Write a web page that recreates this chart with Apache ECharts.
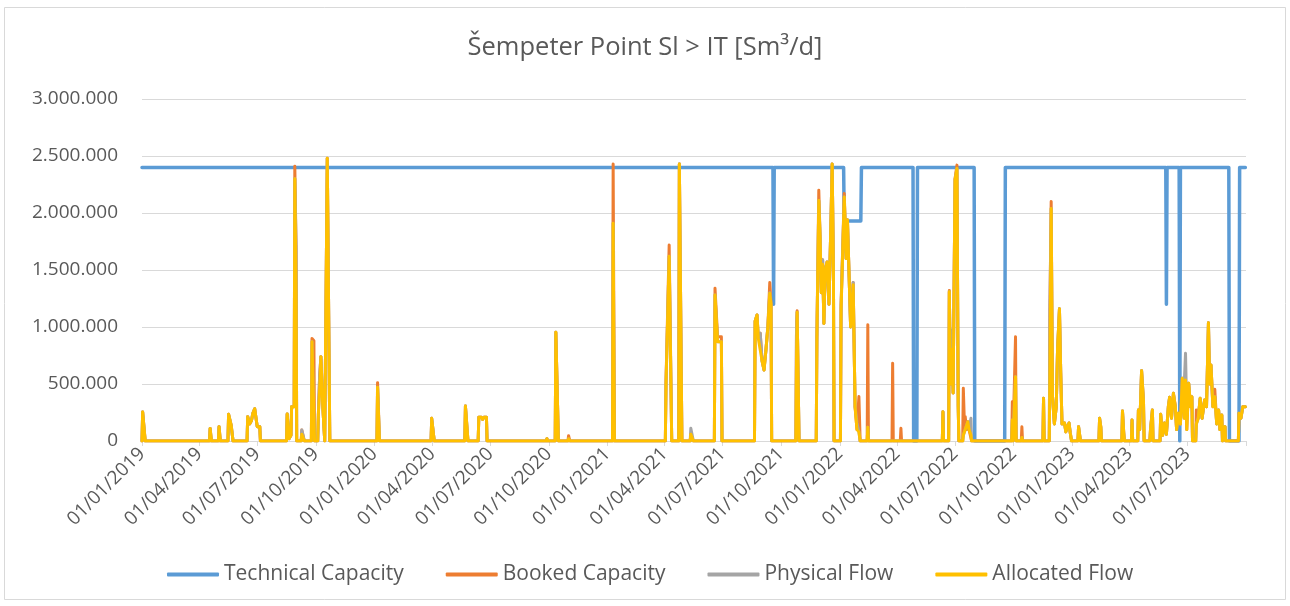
<!DOCTYPE html>
<html>
<head>
<meta charset="utf-8">
<script src="https://cdn.jsdelivr.net/npm/echarts@6/dist/echarts.min.js"></script>
<style>
html,body{margin:0;padding:0;background:#ffffff;}
#chart{width:1290px;height:606px;}
</style>
</head>
<body>
<div id="chart"></div>
<script>
// ---------- DATA ----------
const chartTitle = 'Šempeter Point Sl > IT [Sm³/d]';
const seriesNames = ['Technical Capacity', 'Booked Capacity', 'Physical Flow', 'Allocated Flow'];

// x-axis tick labels (quarter starts) and axis end
const quarterLabels = ['01/01/2019','01/04/2019','01/07/2019','01/10/2019','01/01/2020','01/04/2020','01/07/2020','01/10/2020',
  '01/01/2021','01/04/2021','01/07/2021','01/10/2021','01/01/2022','01/04/2022','01/07/2022','01/10/2022',
  '01/01/2023','01/04/2023','01/07/2023'];
const axisEndLabel = '01/10/2023';

// y-axis
const yTicks = [0, 500000, 1000000, 1500000, 2000000, 2500000, 3000000];

// Technical capacity (change points)
const capDates = ['2019-01-01','2021-09-18','2021-09-19','2021-09-20','2022-01-07','2022-01-08','2022-02-03','2022-02-04',
  '2022-04-26','2022-04-27','2022-05-02','2022-05-03','2022-07-31','2022-08-01','2022-09-17','2022-09-18',
  '2023-05-28','2023-05-29','2023-05-30','2023-06-18','2023-06-19','2023-06-20','2023-09-04','2023-09-05',
  '2023-09-20','2023-09-21','2023-09-30'];
const technicalCapacity = [2400000,2400000,1200000,2400000,2400000,1930000,1930000,2400000,
  2400000,0,0,2400000,2400000,0,0,2400000,
  2400000,1200000,2400000,2400000,0,2400000,2400000,0,
  0,2400000,2400000];

// Flows (dates shared by booked / physical / allocated)
const flowDates = [
  '2019-01-01','2019-01-02','2019-01-05','2019-01-06',
  '2019-04-17','2019-04-18','2019-04-19','2019-04-20','2019-05-01','2019-05-02','2019-05-03','2019-05-04',
  '2019-05-16','2019-05-17','2019-05-18','2019-05-21','2019-05-23','2019-05-24','2019-06-15','2019-06-16','2019-06-18','2019-06-19','2019-06-22','2019-06-24','2019-06-26','2019-06-27','2019-06-30','2019-07-01','2019-07-05','2019-07-06',
  '2019-08-16','2019-08-17','2019-08-19','2019-08-20','2019-08-23','2019-08-24','2019-08-28','2019-08-29','2019-08-30','2019-08-31','2019-09-01','2019-09-08','2019-09-09','2019-09-12','2019-09-13',
  '2019-09-24','2019-09-25','2019-09-28','2019-09-29','2019-10-04','2019-10-05','2019-10-07','2019-10-09','2019-10-10','2019-10-12','2019-10-14','2019-10-15','2019-10-18','2019-10-19','2019-10-22','2019-10-23',
  '2020-01-05','2020-01-06','2020-01-08','2020-01-09','2020-03-30','2020-03-31','2020-04-03','2020-04-04','2020-05-22','2020-05-23','2020-05-26','2020-05-27',
  '2020-06-12','2020-06-13','2020-06-17','2020-06-19','2020-06-21','2020-06-25','2020-06-26','2020-09-27','2020-09-28','2020-09-29','2020-10-11','2020-10-12','2020-10-15','2020-10-16','2020-10-31','2020-11-01','2020-11-02','2020-11-03',
  '2021-01-09','2021-01-10','2021-01-11','2021-01-12','2021-04-02','2021-04-03','2021-04-06','2021-04-08','2021-04-11','2021-04-12','2021-04-23','2021-04-24','2021-04-27','2021-04-28','2021-05-11','2021-05-12','2021-05-15','2021-05-16',
  '2021-06-18','2021-06-19','2021-06-22','2021-06-23','2021-06-29','2021-06-30','2021-08-20','2021-08-21','2021-08-24','2021-08-26','2021-08-29','2021-09-01','2021-09-04','2021-09-07','2021-09-10','2021-09-13','2021-09-15','2021-09-16','2021-10-24','2021-10-25','2021-10-26','2021-10-28','2021-10-29',
  '2021-11-25','2021-11-26','2021-11-29','2021-12-01','2021-12-03','2021-12-05','2021-12-07','2021-12-09','2021-12-12','2021-12-15','2021-12-18','2021-12-20','2021-12-22','2021-12-23','2021-12-28',
  '2022-01-02','2022-01-03','2022-01-08','2022-01-11','2022-01-13','2022-01-15','2022-01-18','2022-01-22','2022-01-25','2022-01-28','2022-01-31','2022-02-02','2022-02-13','2022-02-14','2022-02-15','2022-03-24','2022-03-25','2022-03-26','2022-04-06','2022-04-07','2022-04-08',
  '2022-06-11','2022-06-12','2022-06-13','2022-06-21','2022-06-22','2022-06-24','2022-06-26','2022-06-28','2022-07-01','2022-07-04','2022-07-06','2022-07-07','2022-07-13','2022-07-14','2022-07-16','2022-07-17','2022-07-19','2022-07-21','2022-07-23','2022-07-26','2022-07-27',
  '2022-09-28','2022-09-29','2022-09-30','2022-10-03','2022-10-04','2022-10-05','2022-10-13','2022-10-14','2022-10-15',
  '2022-11-16','2022-11-17','2022-11-18','2022-11-26','2022-11-27','2022-11-29','2022-12-01','2022-12-04','2022-12-07','2022-12-09','2022-12-12','2022-12-14','2022-12-16','2022-12-20','2022-12-22','2022-12-24','2022-12-27','2022-12-29','2022-12-31',
  '2023-01-10','2023-01-11','2023-01-13','2023-01-14','2023-02-12','2023-02-13','2023-02-15','2023-02-16','2023-03-20','2023-03-21','2023-03-23','2023-03-24','2023-04-04','2023-04-05','2023-04-06','2023-04-14','2023-04-15','2023-04-17','2023-04-20','2023-04-23','2023-04-24','2023-05-03','2023-05-04','2023-05-07','2023-05-08',
  '2023-05-19','2023-05-20','2023-05-23','2023-05-26','2023-05-29','2023-06-01','2023-06-03','2023-06-06','2023-06-09','2023-06-12','2023-06-14','2023-06-17','2023-06-20','2023-06-23','2023-06-26','2023-06-28','2023-06-30','2023-07-03','2023-07-06','2023-07-08','2023-07-09',
  '2023-07-14','2023-07-15','2023-07-18','2023-07-21','2023-07-24','2023-07-28','2023-07-31','2023-08-03','2023-08-05','2023-08-07','2023-08-10','2023-08-13','2023-08-16','2023-08-19','2023-08-21','2023-08-24','2023-08-25','2023-08-28','2023-08-29','2023-08-30','2023-09-19','2023-09-20','2023-09-23','2023-09-26','2023-09-30'
];

const bookedCapacity = [
  0,255000,262000,0,
  0,110000,110000,0,0,125000,125000,0,
  0,234000,234000,140000,140000,0,0,213000,213000,150000,180000,240000,250000,283000,283000,126000,126000,0,
  0,237000,237000,20000,50000,301000,301000,2410000,2410000,1700000,0,0,96000,96000,0,
  0,900000,880000,0,0,230000,570000,740000,740000,300000,100000,0,0,2480000,2490000,0,
  0,512000,512000,0,0,199000,199000,0,0,307000,307000,0,
  0,208000,208000,190000,208000,208000,0,0,20000,0,0,953000,953000,0,0,47000,47000,0,
  0,2430000,2430000,0,0,513000,500000,1720000,1720000,0,0,2430000,2430000,0,0,60000,60000,0,
  0,1340000,1340000,915000,915000,0,0,1050000,1105000,900000,945000,700000,623000,800000,1000000,1390000,1200000,0,0,1000000,1143000,1143000,0,
  0,900000,2200000,1800000,1300000,1590000,1030000,1500000,1570000,1200000,1900000,2430000,1500000,0,0,
  0,1190000,2170000,1600000,1940000,1940000,1000000,1390000,300000,100000,390000,0,0,1020000,0,0,681000,0,0,111000,0,
  0,257000,0,0,1320000,500000,900000,421000,2300000,2420000,300000,0,0,462000,100000,213000,100000,169000,100000,100000,0,
  0,345000,0,0,915000,0,0,125000,0,
  0,374000,0,0,1150000,2100000,400000,150000,300000,800000,1160000,600000,150000,158000,80000,120000,158000,70000,0,
  0,126000,126000,0,0,199000,120000,0,0,263000,70000,0,0,184000,0,0,272000,100000,617000,345000,0,0,100000,272000,0,
  0,234000,50000,158000,60000,300000,383000,200000,418000,300000,100000,243000,150000,550000,200000,535000,100000,506000,300000,389000,0,
  0,272000,200000,374000,200000,360000,300000,1038000,500000,667000,300000,454000,150000,272000,100000,228000,0,0,126000,0,0,243000,200000,301000,301000
];

const physicalFlow = [
  0,255000,262000,0,
  0,110000,110000,0,0,125000,125000,0,
  0,234000,234000,140000,140000,0,0,213000,213000,150000,180000,240000,250000,283000,283000,126000,126000,0,
  0,237000,237000,20000,50000,301000,301000,2300000,2300000,1700000,0,0,96000,96000,0,
  0,870000,870000,0,0,230000,570000,740000,740000,300000,100000,0,0,2480000,2490000,0,
  0,471000,471000,0,0,199000,199000,0,0,307000,307000,0,
  0,208000,208000,190000,208000,208000,0,0,20000,0,0,953000,953000,0,0,20000,20000,0,
  0,1910000,1910000,0,0,491000,491000,1620000,1620000,0,0,2430000,2430000,0,0,111000,111000,0,
  0,1280000,1280000,871000,871000,0,0,1050000,1105000,900000,945000,700000,623000,800000,1000000,1300000,1200000,0,0,991000,1130000,1130000,0,
  0,900000,2110000,1800000,1300000,1590000,1030000,1500000,1570000,1200000,1900000,2430000,1500000,0,0,
  0,1190000,2140000,1600000,1940000,1940000,1000000,1390000,300000,158000,80000,0,0,120000,0,0,0,0,0,0,0,
  0,257000,0,0,1310000,500000,974000,421000,2290000,2390000,300000,0,0,50000,50000,100000,100000,169000,100000,199000,0,
  0,184000,0,0,564000,0,0,30000,0,
  0,374000,0,0,1150000,2040000,400000,150000,300000,800000,1160000,600000,150000,158000,80000,120000,158000,70000,0,
  0,126000,126000,0,0,199000,120000,0,0,263000,70000,0,0,184000,0,0,272000,100000,617000,345000,0,0,100000,272000,0,
  0,234000,50000,158000,60000,300000,383000,200000,418000,300000,100000,243000,150000,550000,500000,769000,250000,506000,300000,389000,0,
  0,150000,200000,374000,200000,360000,300000,1038000,500000,667000,300000,389000,150000,272000,100000,228000,0,0,126000,0,0,243000,200000,301000,301000
];

const allocatedFlow = [
  0,255000,262000,0,
  0,110000,110000,0,0,125000,125000,0,
  0,234000,234000,140000,140000,0,0,213000,213000,150000,180000,240000,250000,283000,283000,126000,126000,0,
  0,237000,237000,20000,50000,301000,301000,2300000,2300000,1300000,0,0,60000,60000,0,
  0,870000,870000,0,0,230000,450000,740000,740000,300000,100000,0,0,2480000,2490000,0,
  0,471000,471000,0,0,199000,199000,0,0,307000,307000,0,
  0,208000,208000,190000,208000,208000,0,0,20000,0,0,953000,953000,0,0,20000,20000,0,
  0,1910000,1910000,0,0,491000,491000,1620000,1620000,0,0,2430000,2430000,0,0,60000,60000,0,
  0,1280000,1280000,871000,871000,0,0,1050000,1105000,900000,915000,700000,623000,800000,1000000,1295000,1200000,0,0,700000,1130000,1130000,0,
  0,900000,2110000,1800000,1300000,1550000,1030000,1500000,1570000,1200000,1900000,2430000,1500000,0,0,
  0,1150000,2140000,1600000,1940000,1940000,1000000,1370000,300000,100000,80000,0,0,120000,0,0,0,0,0,0,0,
  0,257000,0,0,1310000,500000,800000,421000,2290000,2390000,300000,0,0,50000,50000,100000,100000,169000,100000,50000,0,
  0,184000,0,0,564000,0,0,30000,0,
  0,374000,0,0,600000,2040000,400000,150000,300000,800000,1160000,600000,150000,158000,80000,120000,158000,70000,0,
  0,126000,126000,0,0,199000,120000,0,0,263000,70000,0,0,184000,0,0,272000,100000,617000,345000,0,0,100000,272000,0,
  0,234000,50000,158000,60000,300000,383000,200000,418000,300000,100000,243000,150000,550000,200000,535000,100000,506000,300000,389000,0,
  0,150000,200000,374000,200000,360000,300000,1038000,500000,667000,300000,389000,150000,272000,100000,228000,0,0,126000,0,0,243000,200000,301000,301000
];

const colors = ['#5B9BD5', '#ED7D31', '#A5A5A5', '#FFC000'];

// ---------- BUILD ----------
function parseIso(s) { const p = s.split('-'); return new Date(+p[0], +p[1] - 1, +p[2]).getTime(); }
function parseDmy(s) { const p = s.split('/'); return new Date(+p[2], +p[1] - 1, +p[0]).getTime(); }
function pad(n) { return (n < 10 ? '0' : '') + n; }
function fmtDate(v) { const d = new Date(v); return pad(d.getDate()) + '/' + pad(d.getMonth() + 1) + '/' + d.getFullYear(); }
function fmtNum(v) { return String(Math.round(v)).replace(/\B(?=(\d{3})+(?!\d))/g, '.'); }

const labelValues = quarterLabels.map(parseDmy);
const tickValues = labelValues.concat([parseDmy(axisEndLabel)]);
const xMin = labelValues[0];
const xMax = parseDmy(axisEndLabel);

function pairs(dates, vals) { return dates.map((d, i) => [parseIso(d), vals[i]]); }

const FONT = '"Open Sans", "Liberation Sans", sans-serif';
const TXT = '#595959';

function lineSeries(name, data, color, width) {
  return {
    name: name, type: 'line', data: data, showSymbol: false, symbol: 'none',
    lineStyle: { color: color, width: width, cap: 'round', join: 'round' },
    itemStyle: { color: color },
    emphasis: { disabled: true }, animation: false
  };
}

const chart = echarts.init(document.getElementById('chart'), null, { renderer: 'canvas' });
chart.setOption({
  backgroundColor: '#ffffff',
  animation: false,
  color: colors,
  title: {
    text: chartTitle, left: 'center', top: 35, padding: 0,
    textStyle: { fontFamily: FONT, fontSize: 25.5, fontWeight: 'normal', color: TXT }
  },
  legend: {
    data: seriesNames, left: 167, top: 564, padding: 0,
    icon: 'roundRect', itemWidth: 52, itemHeight: 4, itemGap: 42,
    textStyle: { fontFamily: FONT, fontSize: 21, color: TXT }
  },
  graphic: [{
    type: 'rect', silent: true, z: -10,
    shape: { x: 4.5, y: 7.5, width: 1281, height: 592 },
    style: { fill: 'none', stroke: '#D9D9D9', lineWidth: 1 }
  }],
  grid: { left: 142, right: 44, top: 99, bottom: 165, containLabel: false },
  xAxis: {
    type: 'value', min: xMin, max: xMax, scale: true,
    axisLine: { show: true, onZero: false, lineStyle: { color: '#D9D9D9', width: 1 } },
    axisTick: { show: true, length: 5, lineStyle: { color: '#D9D9D9' }, customValues: tickValues },
    axisLabel: {
      customValues: labelValues, rotate: 45, margin: 10,
      fontFamily: FONT, fontSize: 19, color: TXT,
      formatter: function (v) { return fmtDate(v); }
    },
    splitLine: { show: false }
  },
  yAxis: {
    type: 'value', min: yTicks[0], max: yTicks[yTicks.length - 1], interval: yTicks[1] - yTicks[0],
    axisLine: { show: false }, axisTick: { show: false },
    axisLabel: { margin: 24, fontFamily: FONT, fontSize: 19, color: TXT, formatter: fmtNum },
    splitLine: { show: true, lineStyle: { color: '#D9D9D9', width: 1 } }
  },
  series: [
    lineSeries(seriesNames[0], pairs(capDates, technicalCapacity), colors[0], 3.5),
    lineSeries(seriesNames[1], pairs(flowDates, bookedCapacity), colors[1], 3),
    lineSeries(seriesNames[2], pairs(flowDates, physicalFlow), colors[2], 3),
    lineSeries(seriesNames[3], pairs(flowDates, allocatedFlow), colors[3], 3)
  ]
});
</script>
</body>
</html>
